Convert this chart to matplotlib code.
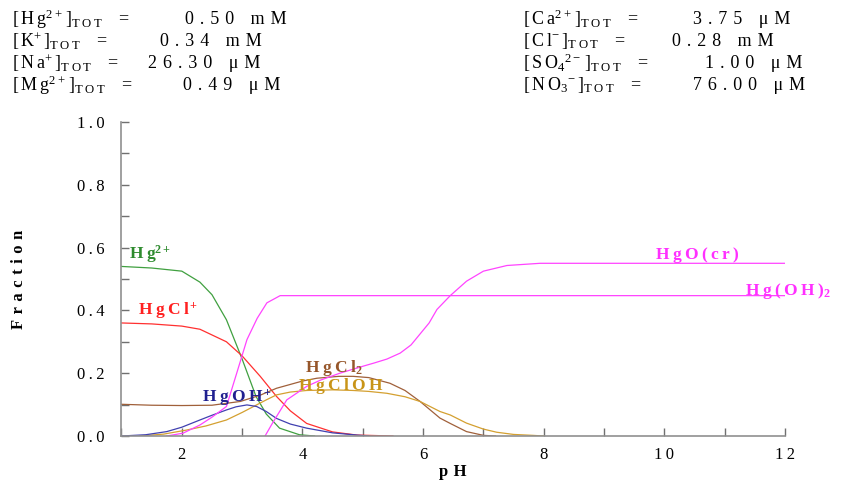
import numpy as np
import matplotlib
matplotlib.use("Agg")
import matplotlib.pyplot as plt
from matplotlib.ticker import MultipleLocator, FuncFormatter

plt.rcParams['font.family'] = ['Liberation Serif', 'DejaVu Serif']
plt.rcParams['mathtext.fontset'] = 'custom'
plt.rcParams['mathtext.rm'] = 'Liberation Serif'
plt.rcParams['mathtext.it'] = 'Liberation Serif:italic'
plt.rcParams['mathtext.bf'] = 'Liberation Serif:bold'

# species fractions
ph_hg = [1.0, 1.5, 2.0, 2.3, 2.5, 2.74, 3.0, 3.23, 3.4, 3.62, 3.95, 4.2]
fr_hg = [0.54, 0.535, 0.525, 0.49, 0.45, 0.37, 0.245, 0.126, 0.07, 0.025, 0.004, 0.0]

ph_hgcl = [1.0, 1.5, 2.0, 2.3, 2.74, 3.0, 3.3, 3.57, 3.8, 4.07, 4.5, 4.9, 5.5]
fr_hgcl = [0.36, 0.357, 0.35, 0.34, 0.30, 0.255, 0.19, 0.126, 0.08, 0.04, 0.013, 0.003, 0.0]

ph_hgcl2 = [1.0, 1.5, 2.0, 2.5, 2.97, 3.3, 3.57, 4.0, 4.24, 4.6, 4.84, 5.1, 5.45,
            5.7, 5.95, 6.28, 6.45, 6.72, 7.0, 7.2]
fr_hgcl2 = [0.101, 0.098, 0.097, 0.098, 0.11, 0.13, 0.152, 0.175, 0.184, 0.19, 0.19,
            0.186, 0.168, 0.145, 0.11, 0.057, 0.04, 0.014, 0.002, 0.0]

ph_hgcloh = [1.3, 1.7, 2.08, 2.4, 2.74, 3.0, 3.19, 3.4, 3.57, 3.8, 4.07, 4.5, 4.84,
             5.1, 5.4, 5.7, 5.95, 6.28, 6.45, 6.72, 7.0, 7.22, 7.5, 7.82, 8.0]
fr_hgcloh = [0.0, 0.006, 0.019, 0.032, 0.051, 0.075, 0.094, 0.115, 0.131, 0.14, 0.145,
             0.147, 0.145, 0.142, 0.136, 0.125, 0.11, 0.078, 0.067, 0.041, 0.022,
             0.012, 0.005, 0.002, 0.0]

ph_hgoh = [1.0, 1.4, 1.75, 2.0, 2.3, 2.5, 2.74, 2.9, 3.08, 3.24, 3.4, 3.57, 3.8,
           4.07, 4.5, 4.9, 5.1]
fr_hgoh = [0.0, 0.004, 0.014, 0.028, 0.051, 0.066, 0.083, 0.093, 0.099, 0.094, 0.078,
           0.056, 0.038, 0.025, 0.01, 0.003, 0.0]

ph_hgoh2 = [1.75, 2.02, 2.3, 2.5, 2.74, 2.91, 3.08, 3.25, 3.41, 3.63, 12.0]
fr_hgoh2 = [0.0, 0.009, 0.035, 0.06, 0.094, 0.2, 0.307, 0.375, 0.424, 0.447, 0.447]

ph_hgo = [3.38, 3.5, 3.74, 4.07, 4.3, 4.62, 5.0, 5.18, 5.4, 5.62, 5.8, 5.95, 6.1,
          6.23, 6.45, 6.72, 7.0, 7.39, 7.94, 12.0]
fr_hgo = [0.0, 0.04, 0.115, 0.158, 0.178, 0.2, 0.222, 0.232, 0.245, 0.264, 0.29,
          0.325, 0.36, 0.403, 0.447, 0.493, 0.525, 0.543, 0.55, 0.55]

TOT = r'_{\mathrm{T\;O\;T}}\;\;\;\;='
left_conc = [(r'$[\,\mathrm{H\;g}^{2+}\,]' + TOT + '$', '0.50 mM', 185),
             (r'$[\,\mathrm{K}^{+}\,]' + TOT + '$', '0.34 mM', 160),
             (r'$[\,\mathrm{N\;a}^{+}\,]' + TOT + '$', '26.30 μM', 148),
             (r'$[\,\mathrm{M\;g}^{2+}\,]' + TOT + '$', '0.49 μM', 183)]
right_conc = [(r'$[\,\mathrm{C\;a}^{2+}\,]' + TOT + '$', '3.75 μM', 693),
              (r'$[\,\mathrm{C\;l}^{-}\,]' + TOT + '$', '0.28 mM', 672),
              (r'$[\,\mathrm{S\;O}_{4}{}^{2-}\,]' + TOT + '$', '1.00 μM', 705),
              (r'$[\,\mathrm{N\;O}_{3}{}^{-}\,]' + TOT + '$', '76.00 μM', 693)]


def spaced(s, sp='\u2004'):
    return sp.join(s)


W, H = 854, 484
fig = plt.figure(figsize=(W / 100, H / 100), dpi=100)
ax = fig.add_axes([121.5 / W, 1 - 436 / H, (785 - 121.5) / W, (436 - 122) / H])

lw = 0.9
ax.plot(ph_hg, fr_hg, color='#40a040', lw=lw)
ax.plot(ph_hgcl, fr_hgcl, color='#ff3030', lw=lw)
ax.plot(ph_hgcl2, fr_hgcl2, color='#a0603a', lw=lw)
ax.plot(ph_hgcloh, fr_hgcloh, color='#d4a030', lw=lw)
ax.plot(ph_hgoh, fr_hgoh, color='#4040b0', lw=lw)
ax.plot(ph_hgoh2, fr_hgoh2, color='#ff44ff', lw=lw)
ax.plot(ph_hgo, fr_hgo, color='#ff44ff', lw=lw)

lab = dict(fontsize=12.5)
ax.text(1.13, 0.565, r'$\mathbf{H\;g}^{\mathbf{2+}}$', color='#2e8b2e', **lab)
ax.text(1.27, 0.385, r'$\mathbf{H\;g\;C\;l}^{\,\mathbf{+}}$', color='#ff2020', **lab)
ax.text(4.05, 0.203, r'$\mathbf{H\;g\;C\;l}_{\mathbf{2}}$', color='#96562a', **lab)
ax.text(3.93, 0.145, r'$\mathbf{H\;g\;C\;l\;O\;H}$', color='#c89418', **lab)
ax.text(2.33, 0.108, r'$\mathbf{H\;g\;O\;H}^{\,\mathbf{+}}$', color='#202090', **lab)
ax.text(9.85, 0.565, r'$\mathbf{H\;g\;O\;(\;c\;r\;)}$', color='#ff30ff', **lab)
ax.text(11.34, 0.45, r'$\mathbf{H\;g\;(\;O\;H\;)}_{\mathbf{2}}$', color='#ff30ff', **lab)

ax.set_xlim(1, 12)
ax.set_ylim(0, 1.0)
ax.xaxis.set_major_locator(MultipleLocator(2))
ax.xaxis.set_minor_locator(MultipleLocator(1))
ax.yaxis.set_major_locator(MultipleLocator(0.2))
ax.yaxis.set_minor_locator(MultipleLocator(0.1))
ax.xaxis.set_major_formatter(FuncFormatter(lambda v, p: spaced('%d' % v, '\u2009')))
ax.yaxis.set_major_formatter(FuncFormatter(lambda v, p: spaced('%.1f' % v, '\u2009')))
ax.tick_params(which='both', direction='in', colors='#707070', labelcolor='black',
               labelsize=12, width=1, length=6)
ax.tick_params(axis='y', pad=12)
ax.tick_params(axis='x', pad=8)
for s in ['top', 'right']:
    ax.spines[s].set_visible(False)
for s in ['left', 'bottom']:
    ax.spines[s].set_color('#909090')
    ax.spines[s].set_linewidth(1.2)

ax.set_xlabel(spaced('pH'), fontsize=12, fontweight='bold', labelpad=1)
ax.set_ylabel(spaced('Fraction'), fontsize=12, fontweight='bold', labelpad=36)

for i, (lbl, val, vx) in enumerate(left_conc):
    y = 1 - (19 + 22 * i) / H
    fig.text(12 / W, y, lbl, fontsize=13, va='center')
    fig.text(vx / W, y, spaced(val), fontsize=13, va='center')
for i, (lbl, val, vx) in enumerate(right_conc):
    y = 1 - (19 + 22 * i) / H
    fig.text(523 / W, y, lbl, fontsize=13, va='center')
    fig.text(vx / W, y, spaced(val), fontsize=13, va='center')

fig.savefig('out.png', dpi=100)
